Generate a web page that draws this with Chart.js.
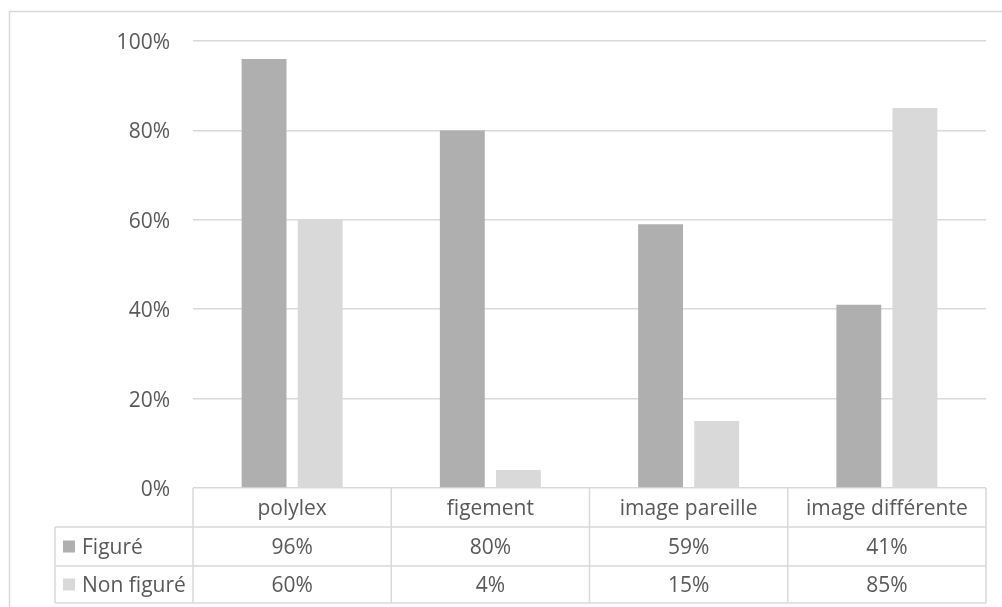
<!DOCTYPE html>
<html lang="fr">
<head>
<meta charset="utf-8">
<script src="https://cdn.jsdelivr.net/npm/chart.js@4/dist/chart.umd.min.js"></script>
<style>
  html, body { margin: 0; padding: 0; background: #ffffff; }
  #wrap { width: 1002px; height: 607px; position: relative; }
</style>
</head>
<body>
<div id="wrap"><canvas id="chart" width="1002" height="607"></canvas></div>
<script>
// Categories and series (percent)
const categories = ['polylex', 'figement', 'image pareille', 'image différente'];
const seriesNames = ['Figuré', 'Non figuré'];
const figure = [96, 80, 59, 41];
const nonFigure = [60, 4, 15, 85];
const yTicks = [0, 20, 40, 60, 80, 100];

const seriesColors = ['#afafaf', '#d9d9d9'];
const lineColor = '#d9d9d9';
const textColor = '#595959';
const fontFamily = "'Open Sans', 'DejaVu Sans', sans-serif";

// Outer frame of the chart object
const framePlugin = {
  id: 'frame',
  beforeDraw(chart) {
    const ctx = chart.ctx;
    ctx.save();
    ctx.strokeStyle = lineColor;
    ctx.lineWidth = 1.5;
    ctx.strokeRect(9.5, 11.5, 1200, 800);
    ctx.restore();
  }
};

// Data table drawn under the plot area, aligned on the category scale
const dataTablePlugin = {
  id: 'dataTable',
  afterDraw(chart) {
    const { ctx, chartArea } = chart;
    const x = chart.scales.x;
    const n = categories.length;
    const colW = (chartArea.right - chartArea.left) / n;
    const top = chartArea.bottom;
    const rowH = [39, 39, 37];
    const rowTop = [top, top + rowH[0], top + rowH[0] + rowH[1]];
    const bottom = rowTop[2] + rowH[2];
    const legendLeft = 55;
    const textShift = 2;

    ctx.save();
    ctx.strokeStyle = lineColor;
    ctx.lineWidth = 1.5;
    ctx.beginPath();
    // horizontal rules
    ctx.moveTo(legendLeft, rowTop[1]); ctx.lineTo(chartArea.right, rowTop[1]);
    ctx.moveTo(legendLeft, rowTop[2]); ctx.lineTo(chartArea.right, rowTop[2]);
    ctx.moveTo(legendLeft, bottom); ctx.lineTo(chartArea.right, bottom);
    // vertical rules
    ctx.moveTo(legendLeft, rowTop[1]); ctx.lineTo(legendLeft, bottom);
    for (let i = 0; i <= n; i++) {
      const xe = i < n ? x.getPixelForValue(i) - colW / 2 : x.getPixelForValue(n - 1) + colW / 2;
      ctx.moveTo(xe, top); ctx.lineTo(xe, bottom);
    }
    ctx.stroke();

    ctx.fillStyle = textColor;
    ctx.font = "21px " + fontFamily;
    ctx.textBaseline = 'middle';
    ctx.textAlign = 'center';
    categories.forEach((c, i) => {
      ctx.fillText(c, x.getPixelForValue(i), rowTop[0] + rowH[0] / 2 + textShift);
    });
    const rows = [figure, nonFigure];
    rows.forEach((vals, r) => {
      const cy = rowTop[r + 1] + rowH[r + 1] / 2;
      vals.forEach((v, i) => {
        ctx.textAlign = 'center';
        ctx.fillText(v + '%', x.getPixelForValue(i), cy + textShift);
      });
      // legend key + series name
      ctx.fillStyle = seriesColors[r];
      ctx.fillRect(63, cy - 6, 12, 12);
      ctx.fillStyle = textColor;
      ctx.textAlign = 'left';
      ctx.fillText(seriesNames[r], 82, cy + textShift);
    });
    ctx.restore();
  }
};

new Chart(document.getElementById('chart'), {
  type: 'bar',
  data: {
    labels: categories,
    datasets: [
      { label: seriesNames[0], data: figure, backgroundColor: seriesColors[0], borderWidth: 0,
        categoryPercentage: 0.566, barPercentage: 0.8 },
      { label: seriesNames[1], data: nonFigure, backgroundColor: seriesColors[1], borderWidth: 0,
        categoryPercentage: 0.566, barPercentage: 0.8 }
    ]
  },
  options: {
    responsive: false,
    animation: false,
    devicePixelRatio: 1,
    layout: { padding: { left: 0, right: 16, top: 41, bottom: 119 } },
    plugins: { legend: { display: false }, tooltip: { enabled: false } },
    scales: {
      x: { display: false },
      y: {
        min: 0, max: 100,
        afterFit(scale) { scale.width = 193; },
        afterBuildTicks(scale) { scale.ticks = yTicks.map(v => ({ value: v })); },
        border: { display: false },
        grid: { color: lineColor, lineWidth: 1.5, drawTicks: false },
        ticks: {
          padding: 23,
          labelOffset: 2,
          color: textColor,
          font: { family: fontFamily, size: 21 },
          callback: v => v + '%'
        }
      }
    }
  },
  plugins: [framePlugin, dataTablePlugin]
});
</script>
</body>
</html>
